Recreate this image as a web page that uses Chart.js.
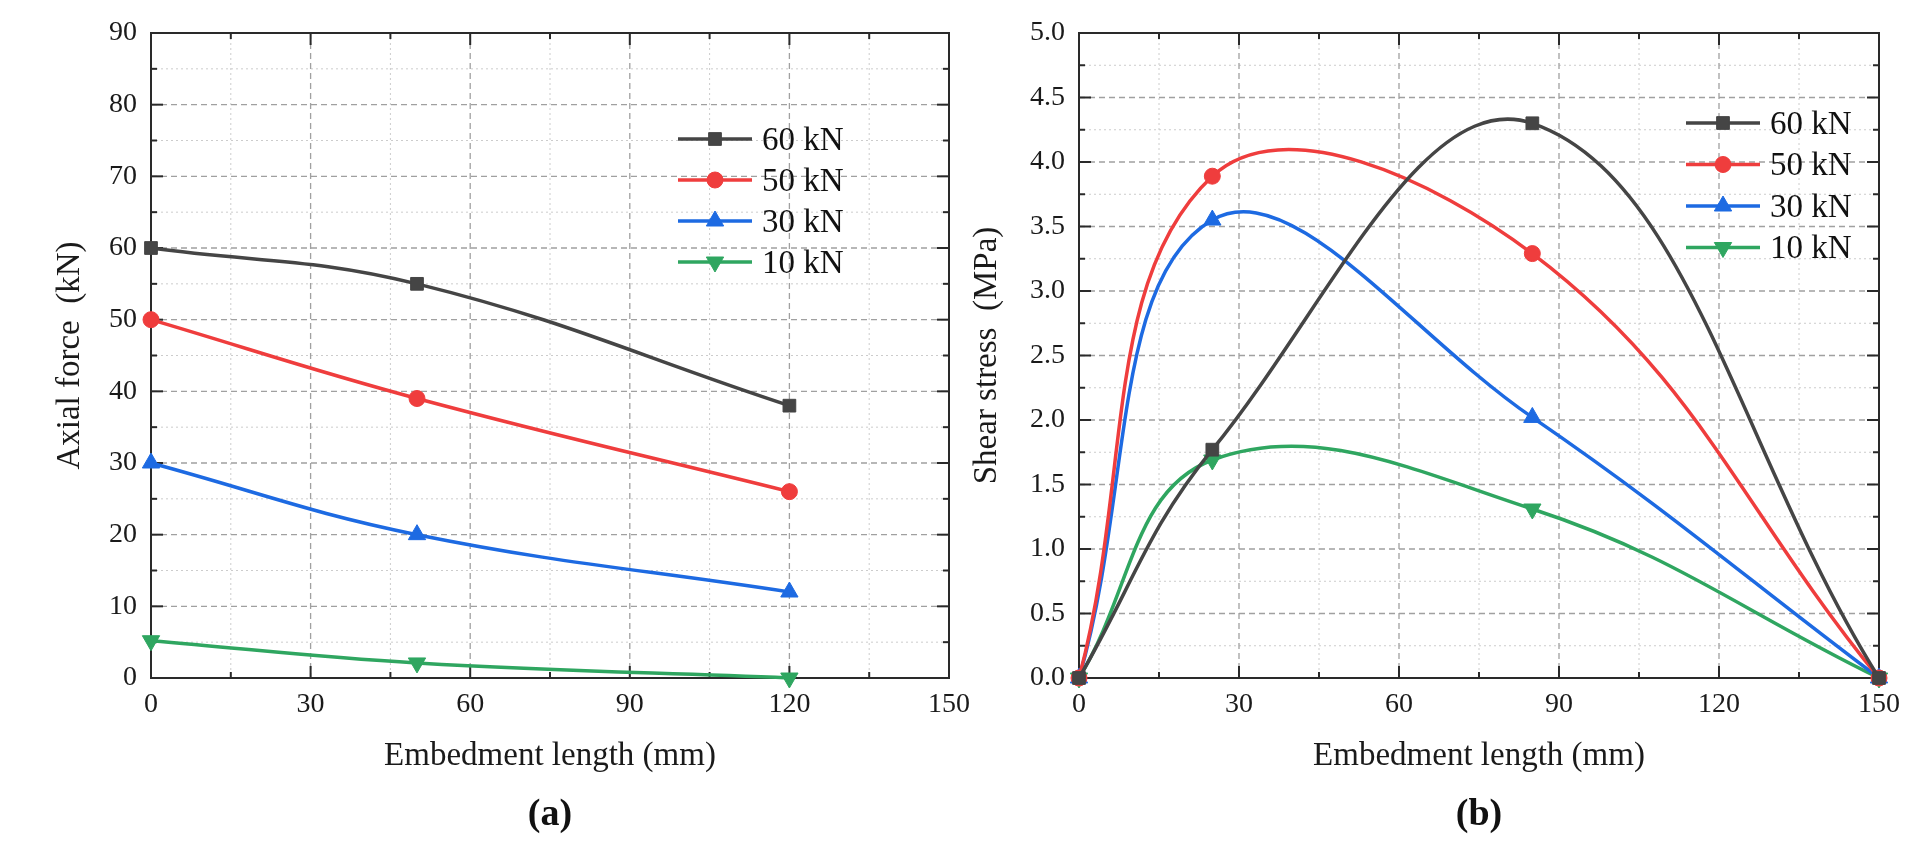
<!DOCTYPE html>
<html>
<head>
<meta charset="utf-8">
<script src="https://cdn.jsdelivr.net/npm/chart.js@4.4.1/dist/chart.umd.min.js"></script>
<style>
html,body{margin:0;padding:0;background:#fff;width:1932px;height:857px;overflow:hidden}
.box{position:absolute;top:0;height:857px}
#boxA{left:0;width:980px}
#boxB{left:966px;width:966px}
.cap{position:absolute;top:790px;width:200px;text-align:center;font-family:'Liberation Serif',serif;font-weight:bold;font-size:38px;line-height:44px;color:#111}
</style>
</head>
<body>
<div id="boxA" class="box"><canvas id="cA"></canvas></div>
<div id="boxB" class="box"><canvas id="cB"></canvas></div>
<div class="cap" style="left:450px">(a)</div>
<div class="cap" style="left:1379px">(b)</div>
<script>
// ---------- data ----------
const seriesNames = ['60 kN', '50 kN', '30 kN', '10 kN'];

// (a) axial force
const xA = [0, 50, 120];
const axial60 = [60, 55, 38];
const axial50 = [50, 39, 26];
const axial30 = [30, 20, 12];
const axial10 = [5.2, 2.1, 0];

// (b) shear stress
const xB = [0, 25, 85, 150];
const shear60 = [0, 1.77, 4.30, 0];
const shear50 = [0, 3.89, 3.29, 0];
const shear30 = [0, 3.55, 2.02, 0];
const shear10 = [0, 1.69, 1.31, 0];

// tick labels
const xTicks = [0, 30, 60, 90, 120, 150];
const yTicksA = [0, 10, 20, 30, 40, 50, 60, 70, 80, 90];
const yTicksB = [0, 0.5, 1.0, 1.5, 2.0, 2.5, 3.0, 3.5, 4.0, 4.5, 5.0];

// ---------- styles ----------
const colors = ['#454545', '#ef3d3d', '#1d6ae2', '#2fa660'];
const pStyles = ['rect', 'circle', 'triangle', 'triangle'];
const pRot = [0, 0, 0, 180];
const pRad = [9, 8, 10, 10];
const FONT = "'Liberation Serif', 'Times New Roman', serif";

function makeSets(xs, list) {
  return list.map((vals, i) => ({
    label: seriesNames[i],
    data: xs.map((x, j) => ({x: x, y: vals[j]})),
    borderColor: colors[i],
    backgroundColor: colors[i],
    pointBackgroundColor: colors[i],
    pointBorderColor: colors[i],
    pointBorderWidth: 1,
    pointStyle: pStyles[i],
    pointRotation: pRot[i],
    pointRadius: pRad[i],
    borderWidth: 3.5,
    tension: 0.4,
    clip: false
  }));
}

const framePlugin = {
  id: 'frame',
  beforeDatasetsDraw(chart) {
    const {ctx, chartArea: ca, scales: {x, y}} = chart;
    const xs = x.ticks.map(t => t.value), ys = y.ticks.map(t => t.value);
    const mid = a => a.slice(1).map((v, i) => (v + a[i]) / 2);
    const xm = mid(xs), ym = mid(ys);
    const vline = (v, y0, y1) => { const p = x.getPixelForValue(v); ctx.beginPath(); ctx.moveTo(p, y0); ctx.lineTo(p, y1); ctx.stroke(); };
    const hline = (v, x0, x1) => { const p = y.getPixelForValue(v); ctx.beginPath(); ctx.moveTo(x0, p); ctx.lineTo(x1, p); ctx.stroke(); };
    ctx.save();
    // minor grid
    ctx.lineWidth = 1; ctx.strokeStyle = '#cccccc'; ctx.setLineDash([2, 3]);
    xm.forEach(v => vline(v, ca.top, ca.bottom));
    ym.forEach(v => hline(v, ca.left, ca.right));
    // major grid
    ctx.lineWidth = 1.3; ctx.strokeStyle = '#a0a0a0'; ctx.setLineDash([6, 4]);
    xs.slice(1, -1).forEach(v => vline(v, ca.top, ca.bottom));
    ys.slice(1, -1).forEach(v => hline(v, ca.left, ca.right));
    ctx.setLineDash([]);
    // inward ticks
    ctx.strokeStyle = '#2a2a2a'; ctx.lineWidth = 2;
    xs.forEach(v => { vline(v, ca.bottom, ca.bottom - 12); vline(v, ca.top, ca.top + 12); });
    xm.forEach(v => { vline(v, ca.bottom, ca.bottom - 6); vline(v, ca.top, ca.top + 6); });
    ys.forEach(v => { hline(v, ca.left, ca.left + 12); hline(v, ca.right, ca.right - 12); });
    ym.forEach(v => { hline(v, ca.left, ca.left + 6); hline(v, ca.right, ca.right - 6); });
    ctx.strokeRect(ca.left, ca.top, ca.right - ca.left, ca.bottom - ca.top);
    ctx.restore();
  }
};

const legendPlugin = {
  id: 'lineLegend',
  afterDatasetsDraw(chart, args, o) {
    const {ctx, chartArea: ca} = chart;
    ctx.save();
    chart.data.datasets.forEach((ds, i) => {
      const yy = ca.top + o.top + i * o.gap;
      const x0 = ca.left + o.left, x1 = x0 + o.len;
      ctx.setLineDash([]);
      ctx.strokeStyle = ds.borderColor; ctx.lineWidth = ds.borderWidth;
      ctx.beginPath(); ctx.moveTo(x0, yy); ctx.lineTo(x1, yy); ctx.stroke();
      ctx.fillStyle = ds.pointBackgroundColor; ctx.strokeStyle = ds.pointBorderColor; ctx.lineWidth = 1;
      Chart.helpers.drawPoint(ctx, {pointStyle: ds.pointStyle, radius: ds.pointRadius, rotation: ds.pointRotation, borderWidth: 1}, (x0 + x1) / 2, yy);
      ctx.fillStyle = '#111';
      ctx.font = '33px ' + FONT;
      ctx.textAlign = 'left'; ctx.textBaseline = 'middle';
      ctx.fillText(ds.label, x1 + o.pad, yy + 2);
    });
    ctx.restore();
  }
};

function makeChart(id, sets, yTicks, yFmt, cfg) {
  return new Chart(document.getElementById(id), {
    type: 'line',
    data: {datasets: sets},
    plugins: [framePlugin, legendPlugin],
    options: {
      responsive: true,
      maintainAspectRatio: false,
      animation: false,
      devicePixelRatio: 1,
      layout: {autoPadding: false, padding: {left: 0, top: 33, right: cfg.right, bottom: 81}},
      plugins: {
        legend: {display: false},
        tooltip: {enabled: false},
        lineLegend: cfg.legend
      },
      scales: {
        x: {
          type: 'linear', min: 0, max: 150,
          afterBuildTicks: s => { s.ticks = xTicks.map(v => ({value: v})); },
          afterFit: s => { s.height = 98; },
          grid: {display: false, drawTicks: false},
          border: {display: false},
          ticks: {padding: 10, color: '#1a1a1a', font: {family: FONT, size: 28}},
          title: {display: true, text: 'Embedment length (mm)', color: '#1a1a1a', font: {family: FONT, size: 33}, padding: {top: 0, bottom: 0}}
        },
        y: {
          type: 'linear', min: yTicks[0], max: yTicks[yTicks.length - 1],
          afterBuildTicks: s => { s.ticks = yTicks.map(v => ({value: v})); },
          afterFit: s => { s.width = cfg.yWidth; },
          grid: {display: false, drawTicks: false},
          border: {display: false},
          ticks: {padding: 14, color: '#1a1a1a', font: {family: FONT, size: 28}, callback: yFmt},
          title: {display: true, text: cfg.yTitle, color: '#1a1a1a', font: {family: FONT, size: 33}, padding: {top: cfg.titlePad, bottom: 0}}
        }
      }
    }
  });
}

makeChart('cA', makeSets(xA, [axial60, axial50, axial30, axial10]), yTicksA, v => String(v), {
  right: 30, yWidth: 151, titlePad: 51, yTitle: 'Axial force  (kN)',
  legend: {left: 527, top: 106, gap: 41, len: 74, pad: 10}
});
makeChart('cB', makeSets(xB, [shear60, shear50, shear30, shear10]), yTicksB, v => Number(v).toFixed(1), {
  right: 53, yWidth: 113, titlePad: 2, yTitle: 'Shear stress  (MPa)',
  legend: {left: 607, top: 90, gap: 41.5, len: 74, pad: 10}
});
</script>
</body>
</html>
